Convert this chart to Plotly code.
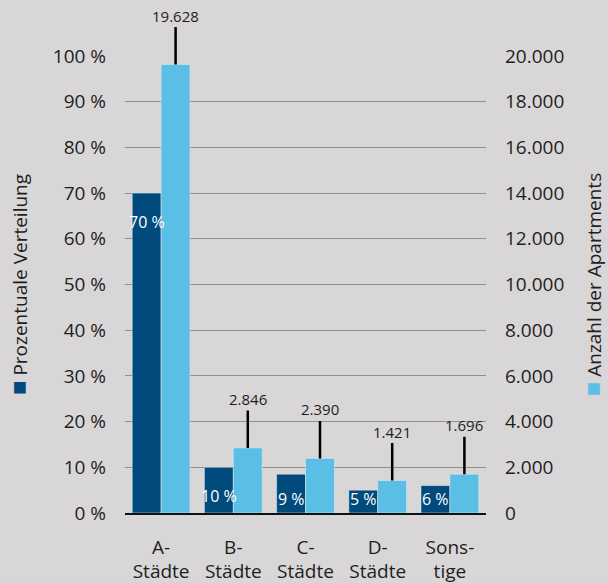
import plotly.graph_objects as go

categories = ["A-<br>Städte", "B-<br>Städte", "C-<br>Städte", "D-<br>Städte", "Sons-<br>tige"]
pct_values = [70, 10, 8.5, 5, 6]
apartment_counts = [19628, 2846, 2390, 1421, 1696]
pct_ticks = [0, 10, 20, 30, 40, 50, 60, 70, 80, 90, 100]
pct_tick_labels = ["0 %", "10 %", "20 %", "30 %", "40 %", "50 %", "60 %", "70 %", "80 %", "90 %", "100 %"]
count_ticks = [0, 2000, 4000, 6000, 8000, 10000, 12000, 14000, 16000, 18000, 20000]

DARK = "#004a7c"
LIGHT = "#5bbee5"
BG = "#d8d6d7"
TXT = "#1e1e1e"
FONT = "Open Sans"

fig = go.Figure()
fig.add_trace(go.Bar(x=categories, y=pct_values, marker_color=DARK, width=0.4, offset=-0.4,
                     yaxis="y", showlegend=False, hoverinfo="skip"))
fig.add_trace(go.Bar(x=categories, y=apartment_counts, marker_color=LIGHT, width=0.4, offset=0,
                     yaxis="y2", showlegend=False, hoverinfo="skip"))

plot_h = 583 - 56 - 70
annotations = []
for c, p in zip(categories, pct_values):
    label = f"{int(p + 0.5)} %"
    if p / 100 * plot_h > 40:
        annotations.append(dict(x=c, y=p, xref="x", yref="y", text=label, showarrow=False,
                                xshift=-14.5, yanchor="top", yshift=-16,
                                font=dict(family=FONT, size=16, color="white")))
    else:
        annotations.append(dict(x=c, y=0, xref="x", yref="y", text=label, showarrow=False,
                                xshift=-14.5, yanchor="bottom", yshift=1,
                                font=dict(family=FONT, size=16, color="white")))
for c, v in zip(categories, apartment_counts):
    annotations.append(dict(x=c, y=v, xref="x", yref="y2", text=f"{v:,}".replace(",", "."),
                            showarrow=True, ax=0, ay=-49, arrowhead=0, arrowwidth=2.5,
                            arrowcolor="black", xshift=14.5,
                            font=dict(family=FONT, size=15, color=TXT)))

fig.update_layout(
    width=608, height=583,
    margin=dict(l=125, r=122, t=56, b=70),
    paper_bgcolor=BG, plot_bgcolor=BG,
    separators=",.",
    font=dict(family=FONT, color=TXT, size=19),
    barmode="overlay",
    annotations=annotations,
    xaxis=dict(type="category", showgrid=False, showline=True, linecolor="#111", linewidth=1.5,
               ticks="", tickfont=dict(size=19, color=TXT), range=[-0.5, 4.5],
               ticklabelstandoff=16, automargin=False),
    yaxis=dict(range=[0, 100], tickvals=pct_ticks, ticktext=pct_tick_labels, showgrid=True,
               gridcolor="#8f8f8f", gridwidth=1.2, zeroline=False, showline=False,
               tickfont=dict(size=19, color=TXT), ticklabelstandoff=18, automargin=False,
               title=dict(text=f'<span style="color:{DARK};font-size:24px">■</span> Prozentuale Verteilung',
                          font=dict(size=19, color=TXT), standoff=20)),
    yaxis2=dict(range=[0, 20000], tickvals=count_ticks, overlaying="y", side="right",
                showgrid=False, zeroline=False, showline=False, tickformat=",d",
                tickfont=dict(size=19, color=TXT), ticklabelstandoff=18, automargin=False,
                title=dict(text=f'<span style="color:{LIGHT};font-size:24px">■</span> Anzahl der Apartments',
                           font=dict(size=19, color=TXT), standoff=34)),
)

fig.write_html("out.html")
